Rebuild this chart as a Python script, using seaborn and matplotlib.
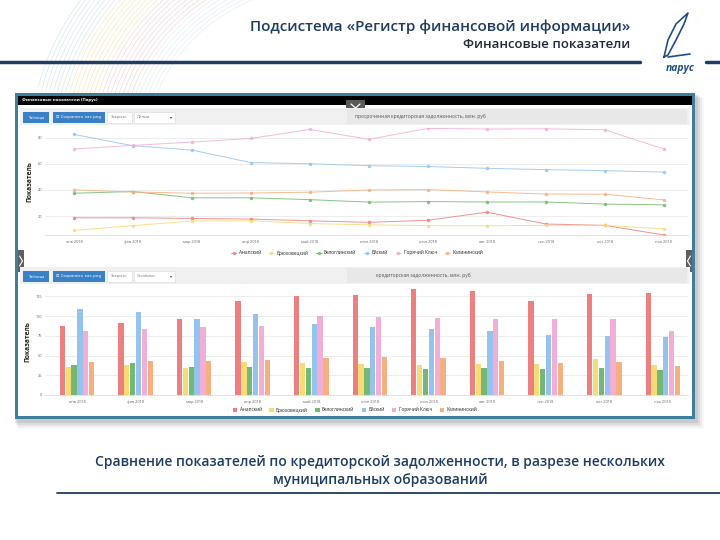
import pandas as pd
import seaborn as sns
import matplotlib.pyplot as plt
from matplotlib.patches import Rectangle, Arc

# months and municipalities
months = ["янв 2018", "фев 2018", "мар 2018", "апр 2018", "май 2018", "июн 2018",
          "июл 2018", "авг 2018", "сен 2018", "окт 2018", "ноя 2018"]
regions = ["Анапский", "Брюховецкий", "Белоглинский", "Ейский", "Горячий Ключ", "Калининский"]
colors = ["#ec7f80", "#f5dc78", "#74b874", "#94c4ee", "#f2aed6", "#f5b07f"]

# просроченная кредиторская задолженность, млн. руб (line chart)
overdue_anapsky = [18.7, 18.7, 18.2, 17.7, 16.4, 15.2, 16.8, 23.0, 13.9, 12.9, 5.5]
overdue_bryukhovetsky = [9.0, 12.7, 16.2, 16.4, 14.3, 13.3, 12.7, 12.6, 12.9, 12.9, 10.2]
overdue_beloglinsky = [37.5, 38.8, 34.0, 34.0, 32.6, 30.7, 31.1, 30.8, 30.8, 29.2, 28.6]
overdue_eysk = [82.6, 73.9, 70.6, 61.0, 60.1, 58.6, 58.0, 56.6, 55.6, 54.8, 53.7]
overdue_gk = [71.4, 74.2, 76.7, 79.5, 86.4, 78.8, 87.2, 86.7, 86.9, 86.1, 71.4]
overdue_kalininsky = [40.1, 38.5, 37.5, 37.7, 38.3, 40.0, 40.3, 38.5, 36.9, 36.8, 32.4]

# кредиторская задолженность, млн. руб (bar chart)
debt_anapsky = [86.9, 90.7, 95.8, 118.8, 125.5, 127.0, 134.1, 132.2, 119.6, 127.8, 129.3]
debt_bryukhovetsky = [35.0, 37.7, 34.7, 41.4, 40.7, 39.2, 38.0, 39.0, 38.8, 45.8, 38.0]
debt_beloglinsky = [37.7, 41.0, 36.0, 36.0, 34.3, 34.4, 33.5, 34.4, 33.5, 34.1, 31.8]
debt_eysk = [109.0, 105.0, 95.8, 102.0, 90.3, 86.7, 84.0, 80.6, 75.7, 74.7, 73.6]
debt_gk = [81.0, 83.0, 85.6, 87.3, 100.0, 98.5, 98.1, 96.8, 96.2, 96.8, 81.2]
debt_kalininsky = [41.5, 43.0, 43.6, 44.7, 47.4, 48.7, 47.0, 43.0, 41.1, 41.8, 36.6]

overdue = [overdue_anapsky, overdue_bryukhovetsky, overdue_beloglinsky,
           overdue_eysk, overdue_gk, overdue_kalininsky]
debt = [debt_anapsky, debt_bryukhovetsky, debt_beloglinsky,
        debt_eysk, debt_gk, debt_kalininsky]

line_df = pd.DataFrame([(m, r, v) for r, vals in zip(regions, overdue) for m, v in zip(months, vals)],
                       columns=["month", "region", "value"])
bar_df = pd.DataFrame([(m, r, v) for r, vals in zip(regions, debt) for m, v in zip(months, vals)],
                      columns=["month", "region", "value"])

sns.set_style("white")
plt.rcParams["font.family"] = ["Open Sans", "DejaVu Sans"]

W, H = 720, 540
fig = plt.figure(figsize=(W / 100, H / 100), dpi=100)
fig.patch.set_facecolor("white")

# background layer in pixel coordinates
bg = fig.add_axes([0, 0, 1, 1])
bg.set_xlim(0, W)
bg.set_ylim(H, 0)
bg.axis("off")


def box(x, y, w, h, **kw):
    bg.add_patch(Rectangle((x, y), w, h, **kw))


navy = "#1f3d62"

# decorative swoosh top-left (pale ribbons)
swoosh = ["#a9cbe4"] * 8 + ["#f3cf6e"] * 8 + ["#eea6b6"] * 8 + ["#c8dbe9"] * 6
for k, c in enumerate(swoosh):
    r = 300 - k * 4
    bg.add_patch(Arc((330, 150), 2 * r, 2 * r * 0.9, theta1=192, theta2=262,
                     color=c, lw=0.5, alpha=0.45))

# header
bg.text(630, 27, "Подсистема «Регистр финансовой информации»", ha="right", va="center",
        fontsize=11, fontweight="semibold", color=navy)
bg.text(630, 45, "Финансовые показатели", ha="right", va="center", fontsize=9.5,
        fontweight="semibold", color="#222a38")
bg.plot([0, 640], [62, 62], color=navy, lw=2.5)
bg.plot([706, 720], [62, 62], color=navy, lw=2.5)
# logo sail
bg.plot([664, 668, 676, 688, 684, 676, 668, 664], [57, 40, 24, 13, 24, 40, 55, 57],
        color="#1f4f80", lw=1.2)
bg.plot([668, 690], [57, 54], color="#1f4f80", lw=1.2)
bg.text(680, 68, "парус", ha="center", va="center", fontsize=7.5, style="italic",
        fontweight="bold", color="#1f4f80")

# screenshot frame with shadow
for k, a in enumerate([0.10, 0.08, 0.06, 0.04]):
    box(15 + k, 95 + k, 683 + k, 328 + k, facecolor="#333333", alpha=a, lw=0)
box(15, 93, 680, 326, facecolor="#3d7f9c", lw=0)
box(18, 96, 674, 320, facecolor="white", lw=0)
box(18, 96, 674, 9, facecolor="black", lw=0)
bg.text(22, 100.5, "Финансовые показатели (Парус)", fontsize=3.2, color="white",
        va="center", fontweight="bold")
box(346, 100, 19, 12, facecolor="#5a5a5a", lw=0)
bg.plot([351, 355.5, 360], [104, 108, 104], color="white", lw=0.9)

# side tabs
box(18, 250, 6, 22, facecolor="#5f5f5f", lw=0)
bg.plot([19.5, 22.5, 19.5], [256, 261, 266], color="white", lw=0.8)
box(686, 250, 6, 22, facecolor="#5f5f5f", lw=0)
bg.plot([690.5, 687.5, 690.5], [256, 261, 266], color="white", lw=0.8)


def toolbar(y, mode, title, tx):
    box(20, y, 670, 17, facecolor="#f0f0f0", lw=0)
    box(347, y + 1, 340, 15, facecolor="#e8e8e8", lw=0)
    bg.text(tx, y + 8.5, title, fontsize=3.6, color="#555555", va="center")
    box(23, y + 3.5, 26, 11, facecolor="#3a80c6", lw=0)
    bg.text(36, y + 9, "Таблица", fontsize=2.9, color="white", ha="center", va="center")
    box(53, y + 3.5, 52, 11, facecolor="#3a80c6", lw=0)
    bg.text(79, y + 9, "⊡ Сохранить как png", fontsize=2.9, color="white",
            ha="center", va="center", family=["DejaVu Sans"])
    box(107, y + 3.5, 25, 11, facecolor="white", edgecolor="#d8d8d8", lw=0.4)
    bg.text(119.5, y + 9, "Закрыть", fontsize=2.9, color="#777777", ha="center", va="center")
    box(134, y + 3.5, 41, 11, facecolor="white", edgecolor="#d8d8d8", lw=0.4)
    bg.text(137, y + 9, mode, fontsize=2.9, color="#777777", va="center")
    bg.text(170, y + 9, "▾", fontsize=3, color="#444444", va="center",
            family=["DejaVu Sans"])


toolbar(108, "Линии", "просроченная кредиторская задолженность, млн. руб", 355)
toolbar(267, "Столбики", "кредиторская задолженность, млн. руб", 376)

# caption
bg.text(380, 462, "Сравнение показателей по кредиторской задолженности, в разрезе нескольких",
        ha="center", va="center", fontsize=10, fontweight="semibold", color=navy)
bg.text(380, 480, "муниципальных образований", ha="center", va="center",
        fontsize=10, fontweight="semibold", color=navy)
bg.plot([57, 720], [493, 493], color=navy, lw=1.3)


def px_axes(x0, y0, x1, y1):
    return fig.add_axes([x0 / W, 1 - y1 / H, (x1 - x0) / W, (y1 - y0) / H])


def style_axis(ax, yticks):
    ax.set_facecolor("white")
    for s in ["top", "right", "left"]:
        ax.spines[s].set_visible(False)
    ax.spines["bottom"].set_color("#ccd6eb")
    ax.spines["bottom"].set_linewidth(0.5)
    ax.set_yticks(yticks)
    ax.yaxis.grid(True, color="#e6e6e6", lw=0.5)
    ax.set_axisbelow(True)
    ax.tick_params(axis="both", labelsize=2.8, colors="#666666", length=0, pad=2)
    ax.tick_params(axis="x", length=1.5, width=0.4, color="#ccd6eb")
    ax.set_xlabel("")
    ax.set_ylabel("Показатель", fontsize=4.8, fontweight="bold", color="#222222", labelpad=3)


# line chart
ax1 = px_axes(45, 128, 688, 235)
sns.lineplot(data=line_df, x="month", y="value", hue="region", hue_order=regions,
             palette=colors, sort=False, marker="o", markersize=2.5, markeredgewidth=0,
             linewidth=0.7, alpha=0.85, ax=ax1)
ax1.set_xlim(-0.49, 10.41)
ax1.set_ylim(5.5, 87.5)
style_axis(ax1, [20, 40, 60, 80])
sns.move_legend(ax1, "center", bbox_to_anchor=(357 / W, 1 - 253 / H),
                bbox_transform=fig.transFigure, ncol=6, frameon=False, title=None,
                fontsize=3.4, handlelength=1.2, columnspacing=1.6, handletextpad=0.5)

# bar chart
ax2 = px_axes(45, 288.4, 688, 395)
sns.barplot(data=bar_df, x="month", y="value", hue="region", hue_order=regions,
            palette=colors, width=0.6, gap=0.1, saturation=1, linewidth=0, ax=ax2)
ax2.set_xlim(-0.546, 10.43)
ax2.set_ylim(0, 135)
style_axis(ax2, [0, 25, 50, 75, 100, 125])
sns.move_legend(ax2, "center", bbox_to_anchor=(355 / W, 1 - 410 / H),
                bbox_transform=fig.transFigure, ncol=6, frameon=False, title=None,
                fontsize=3.4, handlelength=0.9, handleheight=0.9, columnspacing=1.6,
                handletextpad=0.5)

fig.savefig("out.png", dpi=100, facecolor="white")
